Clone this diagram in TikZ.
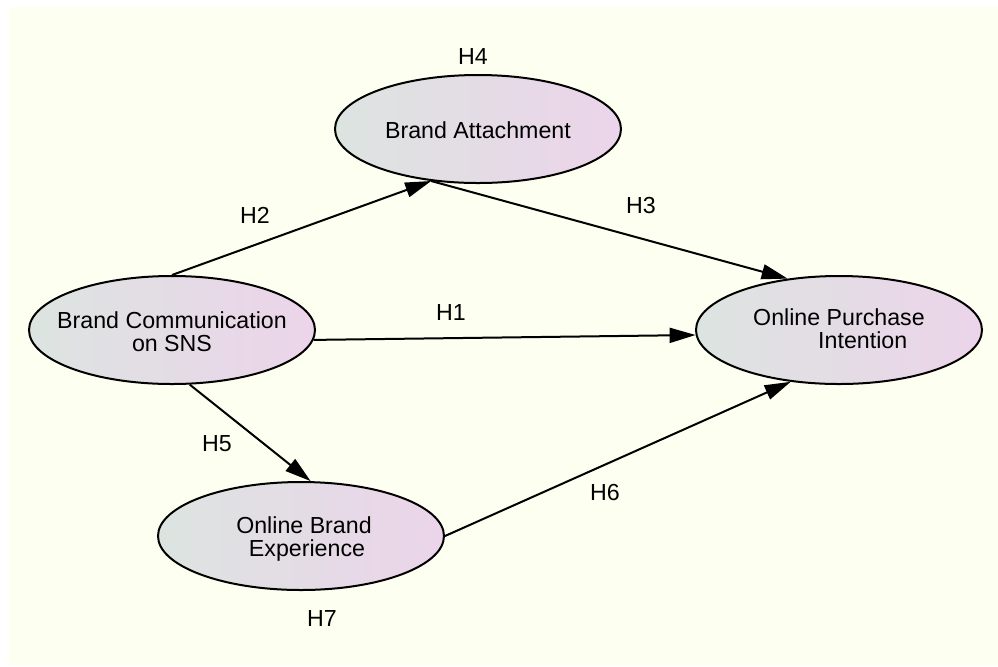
\documentclass[tikz,border=0pt]{standalone}
\usepackage{fontspec}
\setmainfont{Liberation Sans}
\usetikzlibrary{shapes.geometric,arrows.meta}
\definecolor{bgcream}{RGB}{253,255,240}
\definecolor{shadeL}{RGB}{220,228,224}
\definecolor{shadeR}{RGB}{236,212,234}
\tikzset{
  ell/.style={ellipse, draw=black, line width=1pt, minimum width=143pt, minimum height=54pt, inner sep=0pt,
    left color=shadeL, right color=shadeR},
  txt/.style={font=\fontsize{11.6}{11.6}\selectfont, align=center, inner sep=0pt},
  hlbl/.style={font=\fontsize{11.6}{11.6}\selectfont, inner sep=0pt},
  conn/.style={line width=1pt, -{Triangle[length=13pt,width=7.5pt]}}
}
\begin{document}
\begin{tikzpicture}[x=0.5pt,y=-0.5pt]
\useasboundingbox (0,0) rectangle (998,666);
\fill[white] (0,0) rectangle (998,666);
\fill[bgcream] (9,7) rectangle (998,666);

\node[ell] (ba) at (478,129) {};
\node[ell] (bc) at (172,330) {};
\node[ell] (opi) at (839,330) {};
\node[ell] (obe) at (301,536) {};

\node[txt] (bat) at (478,130) {Brand Attachment};
\node[txt] (bct) at (172,332) {Brand Communication\\on SNS};
\node[txt, align=left] (opit) at (839,329) {Online Purchase\\\hspace*{32.5pt}Intention};
\node[txt] (obet) at (304,539) {Online Brand\\\hspace*{3pt}Experience};

\draw[conn] (bc.north) -- (ba.228);
\draw[conn] (ba.228) -- (opi.135);
\draw[conn] (bc.-4) -- (opi.182);
\draw[conn] (bc.-72) -- (obe.80);
\draw[conn] (obe.east) -- (opi.227);

\node[hlbl] (h4) at (473,57) {H4};
\node[hlbl] (h2) at (255,215) {H2};
\node[hlbl] (h3) at (641,206) {H3};
\node[hlbl] (h1) at (451,313) {H1};
\node[hlbl] (h5) at (217,444) {H5};
\node[hlbl] (h6) at (605,493) {H6};
\node[hlbl] (h7) at (322,619) {H7};
\end{tikzpicture}
\end{document}
